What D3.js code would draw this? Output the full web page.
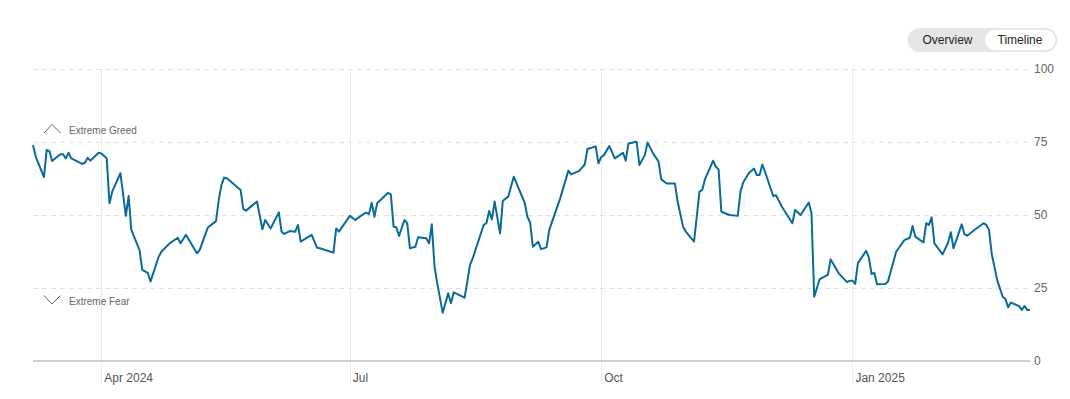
<!DOCTYPE html>
<html lang="en">
  <head>
    <meta charset="UTF-8" />
    <title>Fear &amp; Greed Index Timeline</title>
    <script src="https://d3js.org/d3.v7.min.js"></script>
    <style>
      body {
        margin: 0;
        background: #fff;
        font-family: 'Liberation Sans', Arial, sans-serif;
      }
      .grid-h line {
        stroke: #e2e2e2;
        stroke-dasharray: 5 4;
      }
      .grid-v line {
        stroke: #ebebeb;
      }
      .tick-label {
        font-size: 12px;
        fill: #555;
      }
      .zone-label {
        font-size: 10px;
        fill: #666;
      }
    </style>
  </head>
  <body>
    <div id="chart"></div>
    <script>
      // daily index readings
      const dates = [
        '2024-03-07', '2024-03-08', '2024-03-11', '2024-03-12', '2024-03-13', '2024-03-14',
        '2024-03-17', '2024-03-18', '2024-03-19', '2024-03-20', '2024-03-21', '2024-03-25',
        '2024-03-26', '2024-03-27', '2024-03-28', '2024-03-31', '2024-04-01', '2024-04-03',
        '2024-04-04', '2024-04-05', '2024-04-08', '2024-04-10', '2024-04-11', '2024-04-12',
        '2024-04-15', '2024-04-16', '2024-04-18', '2024-04-19', '2024-04-22', '2024-04-23',
        '2024-04-26', '2024-04-29', '2024-04-30', '2024-05-02', '2024-05-06', '2024-05-07',
        '2024-05-10', '2024-05-13', '2024-05-14', '2024-05-15', '2024-05-16', '2024-05-17',
        '2024-05-22', '2024-05-23', '2024-05-24', '2024-05-28', '2024-05-30', '2024-05-31',
        '2024-06-02', '2024-06-05', '2024-06-06', '2024-06-07', '2024-06-09', '2024-06-11',
        '2024-06-12', '2024-06-13', '2024-06-17', '2024-06-19', '2024-06-20', '2024-06-25',
        '2024-06-26', '2024-06-27', '2024-07-01', '2024-07-03', '2024-07-05', '2024-07-07',
        '2024-07-08', '2024-07-09', '2024-07-10', '2024-07-11', '2024-07-15', '2024-07-16',
        '2024-07-17', '2024-07-18', '2024-07-19', '2024-07-21', '2024-07-22', '2024-07-23',
        '2024-07-25', '2024-07-26', '2024-07-29', '2024-07-30', '2024-07-31', '2024-08-01',
        '2024-08-02', '2024-08-04', '2024-08-06', '2024-08-07', '2024-08-08', '2024-08-12',
        '2024-08-13', '2024-08-14', '2024-08-15', '2024-08-19', '2024-08-20', '2024-08-21',
        '2024-08-22', '2024-08-23', '2024-08-25', '2024-08-26', '2024-08-28', '2024-08-30',
        '2024-09-03', '2024-09-04', '2024-09-05', '2024-09-06', '2024-09-08', '2024-09-09',
        '2024-09-11', '2024-09-12', '2024-09-16', '2024-09-19', '2024-09-20', '2024-09-23',
        '2024-09-24', '2024-09-25', '2024-09-26', '2024-09-29', '2024-09-30', '2024-10-01',
        '2024-10-02', '2024-10-04', '2024-10-06', '2024-10-09', '2024-10-10', '2024-10-11',
        '2024-10-14', '2024-10-15', '2024-10-17', '2024-10-18', '2024-10-20', '2024-10-22',
        '2024-10-23', '2024-10-25', '2024-10-28', '2024-10-29', '2024-10-31', '2024-11-01',
        '2024-11-04', '2024-11-06', '2024-11-07', '2024-11-08', '2024-11-11', '2024-11-12',
        '2024-11-13', '2024-11-14', '2024-11-17', '2024-11-20', '2024-11-21', '2024-11-22',
        '2024-11-24', '2024-11-26', '2024-11-27', '2024-11-28', '2024-11-29', '2024-11-30',
        '2024-12-01', '2024-12-03', '2024-12-04', '2024-12-06', '2024-12-10', '2024-12-11',
        '2024-12-13', '2024-12-16', '2024-12-17', '2024-12-18', '2024-12-20', '2024-12-23',
        '2024-12-24', '2024-12-25', '2024-12-27', '2024-12-30', '2024-12-31', '2025-01-01',
        '2025-01-02', '2025-01-03', '2025-01-06', '2025-01-07', '2025-01-08', '2025-01-09',
        '2025-01-10', '2025-01-13', '2025-01-14', '2025-01-17', '2025-01-20', '2025-01-22',
        '2025-01-23', '2025-01-24', '2025-01-27', '2025-01-28', '2025-01-29', '2025-01-30',
        '2025-01-31', '2025-02-03', '2025-02-05', '2025-02-06', '2025-02-07', '2025-02-10',
        '2025-02-11', '2025-02-12', '2025-02-15', '2025-02-18', '2025-02-19', '2025-02-20',
        '2025-02-21', '2025-02-23', '2025-02-25', '2025-02-26', '2025-02-27', '2025-02-28',
        '2025-03-03', '2025-03-04', '2025-03-05', '2025-03-06', '2025-03-07'
      ];
      const values = [
        74, 70, 63, 72.3, 71.9, 68.5,
        70.8, 70.8, 69.4, 71.3, 69.4, 67.5,
        67.9, 69.6, 68.6, 71.3, 71.1, 69.4,
        54, 58, 64.3, 49.7, 56.5, 44.9,
        38, 31.2, 30.2, 27.2, 35.7, 37.4,
        40.3, 42.2, 40.3, 43.2, 36.9, 38,
        45.7, 47.9, 55.1, 60.3, 62.8, 62.6,
        58.6, 52, 51.5, 54.6, 45.1, 48.3,
        45.4, 50.9, 44.3, 43.5, 44.5, 44.3,
        46.6, 40.9, 43.2, 38.8, 38.6, 37.1,
        45.4, 44.3, 49.7, 48.3, 49.7, 50.8,
        50.3, 54.2, 49.4, 54, 57.6, 57.1,
        46, 45.8, 42.8, 48.3, 47.2, 38.6,
        39.1, 42.4, 42, 40.3, 46.8, 32.3,
        26.6, 16.5, 23.2, 19.8, 23.5, 21.7,
        27.2, 32.9, 35.2, 46.6, 47.2, 51.4,
        48.5, 54.6, 43.7, 54.9, 56.3, 63.1,
        54.2, 49.4, 47.4, 39.1, 40.8, 38.3,
        38.9, 44.9, 55.7, 65.2, 63.9, 65.1,
        66.2, 67.3, 72.6, 73.5, 67.7, 69.8,
        70.5, 73.6, 69.4, 71.3, 68.6, 74.5,
        75.1, 67.1, 70.5, 74.8, 71.1, 68.3,
        62.2, 60.8, 60.8, 54.6, 46, 44.3,
        40.9, 58, 58.6, 62.2, 68.6, 66.5,
        65.6, 51.1, 50, 49.7, 58, 61.1,
        64.3, 65.9, 63.7, 63.7, 67.3, 64.8,
        62, 56.5, 56.8, 53.1, 47.2, 51.7,
        50, 54.3, 50.6, 22, 28, 29.5,
        34.8, 33.2, 30, 27, 27.5, 27.5,
        26.4, 33.5, 37.7, 35.5, 29.8, 30.2,
        26.3, 26.4, 27.2, 37.4, 41.4, 42.2,
        46.2, 42.6, 40.6, 47.2, 46.6, 49.2,
        40.3, 36.5, 40.5, 44.1, 38.6, 46.8,
        43.4, 42.9, 45.1, 47.2, 46.6, 44.9,
        36.6, 27.7, 22, 21.2, 18.4, 20,
        18.8, 17.5, 18.8, 17.5, 17.5
      ];

      const xTickDates = ['2024-04-01', '2024-07-01', '2024-10-01', '2025-01-01'];
      const xTickLabels = ['Apr 2024', 'Jul', 'Oct', 'Jan 2025'];
      const yTicks = [0, 25, 50, 75, 100];
      const zoneLabels = ['Extreme Greed', 'Extreme Fear'];
      const toggleLabels = ['Overview', 'Timeline'];

      const parse = d3.timeParse('%Y-%m-%d');
      const data = dates.map((d, i) => ({ date: parse(d), value: values[i] }));

      const width = 1070;
      const height = 399;
      const plot = { left: 33, right: 1030, top: 69, bottom: 361 };

      const svg = d3
        .select('#chart')
        .append('svg')
        .attr('width', width)
        .attr('height', height);

      const x = d3
        .scaleTime()
        .domain([parse('2024-03-07'), parse('2025-03-07')])
        .range([plot.left, plot.right]);

      const y = d3.scaleLinear().domain([0, 100]).range([plot.bottom, plot.top]);

      // vertical month gridlines
      svg
        .append('g')
        .attr('class', 'grid-v')
        .selectAll('line')
        .data(xTickDates)
        .join('line')
        .attr('x1', (d) => Math.round(x(parse(d))) + 0.5)
        .attr('x2', (d) => Math.round(x(parse(d))) + 0.5)
        .attr('y1', plot.top)
        .attr('y2', 384);

      // horizontal dashed gridlines
      svg
        .append('g')
        .attr('class', 'grid-h')
        .selectAll('line')
        .data(yTicks.filter((t) => t > 0))
        .join('line')
        .attr('x1', plot.left)
        .attr('x2', plot.right)
        .attr('y1', (d) => Math.round(y(d)) + 0.5)
        .attr('y2', (d) => Math.round(y(d)) + 0.5);

      // baseline
      svg
        .append('line')
        .attr('x1', plot.left)
        .attr('x2', plot.right)
        .attr('y1', y(0))
        .attr('y2', y(0))
        .attr('stroke', '#cfcfcf')
        .attr('stroke-width', 2);

      // y labels on the right
      svg
        .append('g')
        .selectAll('text')
        .data(yTicks)
        .join('text')
        .attr('class', 'tick-label')
        .attr('x', plot.right + 4)
        .attr('y', (d) => y(d))
        .attr('dy', '0.36em')
        .style('fill', '#666')
        .text((d) => d);

      // x labels
      svg
        .append('g')
        .selectAll('text')
        .data(xTickDates)
        .join('text')
        .attr('class', 'tick-label')
        .attr('x', (d) => x(parse(d)) + 3)
        .attr('y', 382)
        .text((d, i) => xTickLabels[i]);

      // extreme zone markers
      const chevron = (dir) =>
        dir === 'up'
          ? [[44, y(75) - 9], [52, y(75) - 17.5], [60.5, y(75) - 9]]
          : [[44, y(25) + 7.5], [52, y(25) + 16], [60.5, y(25) + 7.5]];
      ['up', 'down'].forEach((dir, i) => {
        svg
          .append('polyline')
          .attr('points', chevron(dir).join(' '))
          .attr('fill', 'none')
          .attr('stroke', '#666')
          .attr('stroke-width', 1);
        svg
          .append('text')
          .attr('class', 'zone-label')
          .attr('x', 69)
          .attr('y', dir === 'up' ? y(75) - 8 : y(25) + 17)
          .text(zoneLabels[i]);
      });

      // index line
      const line = d3
        .line()
        .x((d) => x(d.date))
        .y((d) => y(d.value));

      svg
        .append('path')
        .datum(data)
        .attr('d', line)
        .attr('fill', 'none')
        .attr('stroke', '#0a6a9b')
        .attr('stroke-width', 2)
        .attr('stroke-linejoin', 'round');

      // overview / timeline toggle
      const toggle = svg.append('g');
      toggle
        .append('rect')
        .attr('x', 907.5)
        .attr('y', 28)
        .attr('width', 150)
        .attr('height', 24)
        .attr('rx', 12)
        .attr('fill', '#e6e6e6');
      toggle
        .append('rect')
        .attr('x', 985)
        .attr('y', 30)
        .attr('width', 70.5)
        .attr('height', 20)
        .attr('rx', 10)
        .attr('fill', '#fff');
      toggle
        .selectAll('text')
        .data(toggleLabels)
        .join('text')
        .attr('x', (d, i) => (i === 0 ? 947.5 : 1020))
        .attr('y', 44)
        .attr('text-anchor', 'middle')
        .style('font-size', '12px')
        .style('fill', '#222')
        .text((d) => d);
    </script>
  </body>
